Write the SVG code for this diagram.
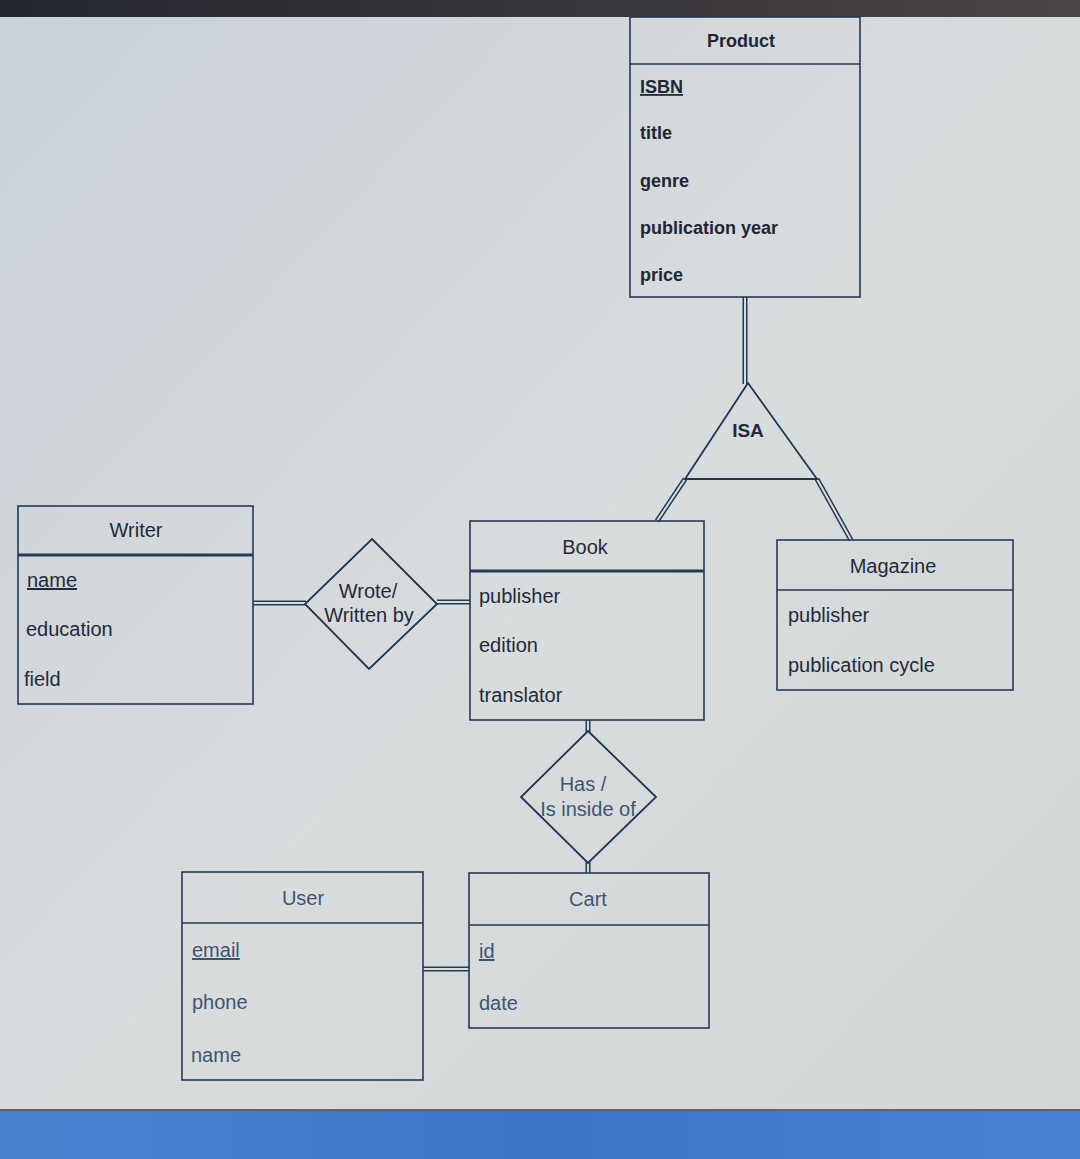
<svg xmlns="http://www.w3.org/2000/svg" width="1080" height="1159" viewBox="0 0 1080 1159">
<defs>
<linearGradient id="bg" x1="0" y1="0" x2="1" y2="1">
<stop offset="0" stop-color="#c9d0d8"/>
<stop offset="0.5" stop-color="#d9dcdd"/>
<stop offset="1" stop-color="#d3d6d6"/>
</linearGradient>
<linearGradient id="bar" x1="0" y1="0" x2="1" y2="0">
<stop offset="0" stop-color="#4d82cf"/>
<stop offset="0.5" stop-color="#3f74c8"/>
<stop offset="1" stop-color="#4a80d2"/>
</linearGradient>
<linearGradient id="top" x1="0" y1="0" x2="1" y2="0">
<stop offset="0" stop-color="#24262e"/>
<stop offset="1" stop-color="#4a4446"/>
</linearGradient>
</defs>
<style>
.box{fill:none;stroke:#253a55;stroke-width:1.6}
.sep{stroke:#253a55;stroke-width:1.6}
.sep2{stroke:#253a55;stroke-width:3}
.dia{fill:none;stroke:#1f3552;stroke-width:1.8}
.t{font-family:"Liberation Sans",Arial,sans-serif;font-size:20px;fill:#1e2b3c}
.tb{font-family:"Liberation Sans",Arial,sans-serif;font-size:18px;font-weight:bold;fill:#1e2733}
.tl{font-family:"Liberation Sans",Arial,sans-serif;font-size:20px;fill:#3d5575}
.c{text-anchor:middle}
.u{text-decoration:underline}
.dbo{fill:none;stroke:#253a55;stroke-width:5}
.dbi{fill:none;stroke:#d8dcde;stroke-width:2}
</style>
<rect x="0" y="0" width="1080" height="1159" fill="url(#bg)"/>
<rect x="0" y="0" width="1080" height="17" fill="url(#top)"/>
<rect x="0" y="1110" width="1080" height="49" fill="url(#bar)"/>
<line x1="0" y1="1110" x2="1080" y2="1110" stroke="#5a6472" stroke-width="2"/>

<g id="connectors">
<path class="dbo" d="M745 297 V384 M685 479 L657 521 M817 479 L851 540 M253 603 H306 M437 602 H470 M588 720 V732 M588 862 V873 M423 969 H469"/>
<path class="dbi" d="M745 297 V384 M685 479 L657 521 M817 479 L851 540 M253 603 H306 M437 602 H470 M588 720 V732 M588 862 V873 M423 969 H469"/>
</g>

<g id="product">
<rect class="box" x="630" y="17" width="230" height="280"/>
<line class="sep" x1="630" y1="64" x2="860" y2="64"/>
<text class="tb c" x="741" y="47">Product</text>
<text class="tb u" x="640" y="93">ISBN</text>
<text class="tb" x="640" y="139">title</text>
<text class="tb" x="640" y="187">genre</text>
<text class="tb" x="640" y="234">publication year</text>
<text class="tb" x="640" y="281">price</text>
</g>

<g id="isa">
<path class="dia" d="M748 383 L685 479 L817 479 Z"/>
<text class="t c" x="748" y="437" style="font-weight:bold;font-size:19px">ISA</text>
</g>

<g id="writer">
<rect class="box" x="18" y="506" width="235" height="198"/>
<line class="sep2" x1="18" y1="555" x2="253" y2="555"/>
<text class="t c" x="136" y="537">Writer</text>
<text class="t u" x="27" y="587">name</text>
<text class="t" x="26" y="636">education</text>
<text class="t" x="24" y="686">field</text>
</g>

<g id="wrote">
<path class="dia" d="M372 539 L437 604 L369 669 L305 604 Z"/>
<text class="t c" x="368" y="598">Wrote/</text>
<text class="t c" x="369" y="622">Written by</text>
</g>

<g id="book">
<rect class="box" x="470" y="521" width="234" height="199"/>
<line class="sep2" x1="470" y1="571" x2="704" y2="571"/>
<text class="t c" x="585" y="554">Book</text>
<text class="t" x="479" y="603">publisher</text>
<text class="t" x="479" y="652">edition</text>
<text class="t" x="479" y="702">translator</text>
</g>

<g id="magazine">
<rect class="box" x="777" y="540" width="236" height="150"/>
<line class="sep" x1="777" y1="590" x2="1013" y2="590"/>
<text class="t c" x="893" y="573">Magazine</text>
<text class="t" x="788" y="622">publisher</text>
<text class="t" x="788" y="672">publication cycle</text>
</g>

<g id="has">
<path class="dia" d="M588 731 L656 797 L588 863 L521 797 Z"/>
<text class="tl c" x="583" y="791">Has /</text>
<text class="tl c" x="588" y="816">Is inside of</text>
</g>

<g id="cart">
<rect class="box" x="469" y="873" width="240" height="155"/>
<line class="sep" x1="469" y1="925" x2="709" y2="925"/>
<text class="tl c" x="588" y="906">Cart</text>
<text class="tl u" x="479" y="958">id</text>
<text class="tl" x="479" y="1010">date</text>
</g>

<g id="user">
<rect class="box" x="182" y="872" width="241" height="208"/>
<line class="sep" x1="182" y1="923" x2="423" y2="923"/>
<text class="tl c" x="303" y="905">User</text>
<text class="tl u" x="192" y="957">email</text>
<text class="tl" x="192" y="1009">phone</text>
<text class="tl" x="191" y="1062">name</text>
</g>
</svg>
